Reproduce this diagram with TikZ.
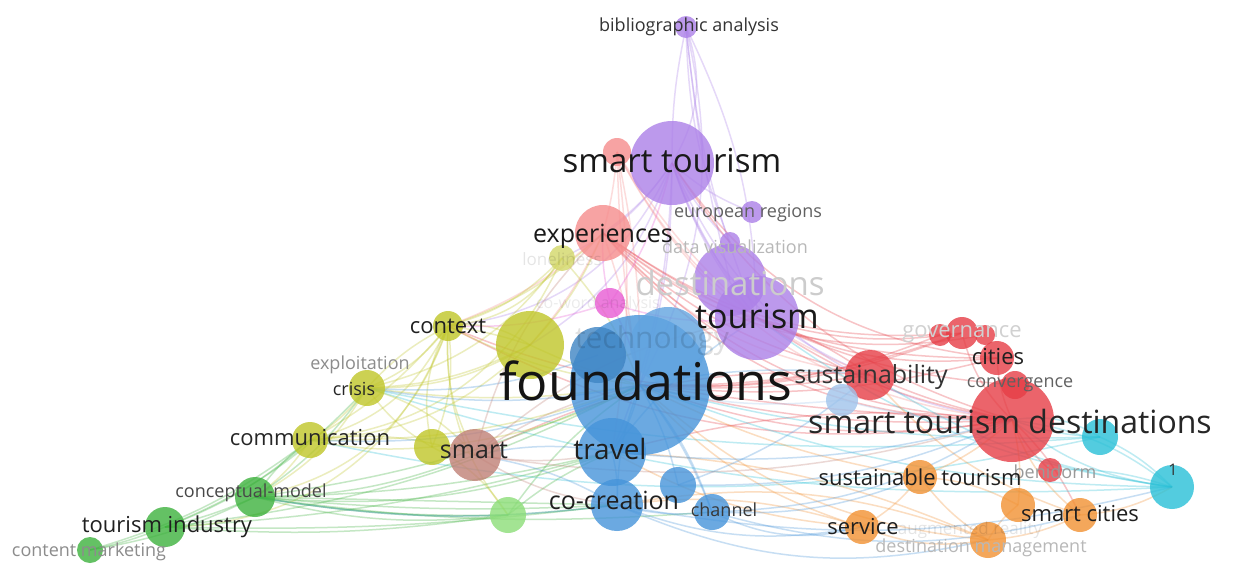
\documentclass[tikz,border=0pt]{standalone}
\usepackage{fontspec}
\setmainfont{Open Sans}
\usetikzlibrary{backgrounds}
\definecolor{cpur}{RGB}{172,128,232}
\definecolor{cred}{RGB}{230,62,70}
\definecolor{cblue}{RGB}{70,148,218}
\definecolor{cyel}{RGB}{192,198,40}
\definecolor{cgrn}{RGB}{62,178,62}
\definecolor{ccy}{RGB}{40,192,215}
\definecolor{corg}{RGB}{242,145,50}
\definecolor{cbrn}{RGB}{192,128,118}
\definecolor{cmag}{RGB}{232,92,212}
\definecolor{csal}{RGB}{246,140,140}
\definecolor{clgr}{RGB}{140,222,120}
\definecolor{clbl}{RGB}{160,196,236}
\newcommand\lfs[1]{\fontsize{#1}{#1}\selectfont}
\pgfdeclarelayer{bg}
\pgfdeclarelayer{edges}
\pgfsetlayers{bg,edges,main}
\tikzset{
  bubble/.style={circle, inner sep=0pt, fill opacity=0.8, draw=none},
  lab/.style={inner sep=0pt, anchor=center},
  edge/.style={line width=1.5pt, draw opacity=0.3},
}
\begin{document}
\begin{tikzpicture}[x=1pt,y=-1pt]
\begin{pgfonlayer}{bg}
\fill[white] (0,0) rectangle (1234,565);
\end{pgfonlayer}
\useasboundingbox (0,0) rectangle (1234,565);
% bubbles
\node[bubble, fill=cpur, minimum size=22] (bib) at (686,27) {};
\node[bubble, fill=csal, minimum size=28] (stp) at (617,152) {};
\node[bubble, fill=cpur, minimum size=84] (st) at (672,163) {};
\node[bubble, fill=cpur, minimum size=22] (eur) at (752,212) {};
\node[bubble, fill=cpur, minimum size=20] (datav) at (730,242) {};
\node[bubble, fill=csal, minimum size=56] (exp) at (603,233) {};
\node[bubble, fill=cyel!70, minimum size=26] (lone) at (562,258) {};
\node[bubble, fill=cpur, minimum size=72] (dest) at (730,280) {};
\node[bubble, fill=cpur, minimum size=84] (tour) at (757,318) {};
\node[bubble, fill=cmag, minimum size=30] (coword) at (610,303) {};
\node[bubble, fill=cyel, minimum size=30] (ctx) at (448,326) {};
\node[bubble, fill=cyel, minimum size=68] (yel) at (530,345) {};
\node[bubble, fill=cblue, minimum size=140] (found) at (640,385) {};
\node[bubble, fill=cblue!85!white, minimum size=76] (tech) at (668,345) {};
\node[bubble, fill=cblue!90!black, minimum size=56] (bl1) at (598,355) {};
\node[bubble, fill=cred, minimum size=22] (gov1) at (940,335) {};
\node[bubble, fill=cred, minimum size=20] (gov2) at (985,335) {};
\node[bubble, fill=cred, minimum size=32] (gov) at (962,333) {};
\node[bubble, fill=cred, minimum size=34] (cit) at (997,358) {};
\node[bubble, fill=cred, minimum size=50] (sus) at (870,375) {};
\node[bubble, fill=clbl, minimum size=32] (lb) at (842,400) {};
\node[bubble, fill=cred, minimum size=28] (conv) at (1015,385) {};
\node[bubble, fill=cred, minimum size=84] (std) at (1012,420) {};
\node[bubble, fill=ccy, minimum size=36] (cy) at (1100,437) {};
\node[bubble, fill=cred, minimum size=24] (ben) at (1050,470) {};
\node[bubble, fill=ccy, minimum size=44] (one) at (1172,487) {};
\node[bubble, fill=corg, minimum size=34] (sustour) at (920,477) {};
\node[bubble, fill=corg, minimum size=34] (sc1) at (1018,505) {};
\node[bubble, fill=corg, minimum size=34] (sc) at (1080,515) {};
\node[bubble, fill=corg, minimum size=34] (serv) at (862,527) {};
\node[bubble, fill=corg, minimum size=36] (aug) at (988,540) {};
\node[bubble, fill=cyel, minimum size=36] (crisis) at (367,388) {};
\node[bubble, fill=cyel, minimum size=36] (comm) at (310,440) {};
\node[bubble, fill=cyel, minimum size=36] (yel2) at (432,447) {};
\node[bubble, fill=cbrn, minimum size=52] (smart) at (475,455) {};
\node[bubble, fill=cblue, minimum size=68] (travel) at (612,452) {};
\node[bubble, fill=cblue, minimum size=36] (bl3) at (678,485) {};
\node[bubble, fill=cblue, minimum size=52] (cocr) at (617,505) {};
\node[bubble, fill=cblue, minimum size=36] (chan) at (712,512) {};
\node[bubble, fill=clgr, minimum size=36] (lg) at (508,515) {};
\node[bubble, fill=cgrn, minimum size=40] (cm) at (255,497) {};
\node[bubble, fill=cgrn, minimum size=40] (ti) at (165,527) {};
\node[bubble, fill=cgrn, minimum size=26] (cmk) at (90,550) {};
% edges
\begin{pgfonlayer}{edges}
\foreach \a/\b/\c/\d in {
 bib/st/cpur/25, bib/tour/cpur/-8, bib/found/cpur/20, bib/dest/cpur/-4, bib/datav/cpur/-10, bib/st/cpur/-6, bib/tour/cpur/12,
 st/found/cpur/8, st/tour/cpur/-10, st/dest/cpur/-6, st/exp/cpur/10, st/sus/cpur/-25, st/std/cpur/-30,
 st/eur/cpur/-10, st/datav/cpur/-8, st/ctx/cpur/30, st/travel/cpur/10, st/yel/cpur/20, st/lone/cpur/15,
 stp/found/csal/6, stp/tour/csal/-8, stp/exp/csal/5, stp/sus/csal/-20, stp/travel/csal/8, stp/std/csal/-28, stp/found/csal/-4,
 exp/found/csal/5, exp/tour/csal/-10, exp/std/cred/-25, exp/ctx/csal/10, exp/yel/csal/8, exp/sus/csal/-20,
 std/found/cred/8, std/tour/cred/12, std/sus/cred/6, std/st/cred/20, sus/found/cred/6, sus/tour/cred/-8,
 gov/tour/cred/12, gov/found/cred/10, cit/found/cred/10, cit/st/cred/25, conv/tour/cred/10, gov/ctx/cred/22,
 std/ctx/cred/18, sus/smart/cred/-15, std/travel/cred/-10, ben/std/cred/10, cit/std/cred/-10, gov/std/cred/-15,
 std/sc/cred/10, gov1/found/cred/12, gov2/exp/cred/25, cit/tour/cred/15, std/exp/cred/22, gov/exp/cred/20, cit/exp/cred/18,
 std/found/cred/14, std/found/cred/3, sus/exp/cred/15,
 one/std/ccy/15, one/cy/ccy/-10, cy/std/ccy/8, one/found/ccy/10, one/sus/ccy/12, one/crisis/ccy/10,
 cy/found/ccy/8, one/ben/ccy/-10, one/tour/ccy/14, cy/comm/ccy/12, one/std/ccy/-15, cy/std/ccy/-20, cy/crisis/ccy/8,
 sustour/found/corg/8, sustour/std/corg/-10, serv/found/corg/15, serv/travel/corg/12, serv/aug/corg/-15, aug/sc/corg/-10,
 aug/sc1/corg/10, sc1/std/corg/-10, sc/std/corg/15, sc/one/corg/-12, aug/found/corg/18, serv/sustour/corg/-10,
 aug/sustour/corg/10, sc/sus/corg/15, serv/cocr/corg/-12, aug/cocr/corg/-15, sc1/sustour/corg/-12, aug/travel/corg/-10,
 ctx/yel/cyel/5, ctx/crisis/cyel/15, ctx/comm/cyel/25, ctx/smart/cyel/-15, ctx/found/cyel/-10, ctx/lone/cyel/-15,
 ctx/exp/cyel/-12, crisis/comm/cyel/10, crisis/yel/cyel/-12, crisis/found/cyel/-8, crisis/smart/cyel/15, comm/yel2/cyel/-8,
 comm/found/cyel/-10, comm/smart/cyel/12, yel2/ctx/cyel/20, yel2/found/cyel/-10, yel/found/cyel/-5, yel/exp/cyel/-10,
 lone/found/cyel/10, comm/cm/cyel/10, crisis/cm/cyel/15, ctx/cm/cyel/30, yel2/crisis/cyel/12, lone/crisis/cyel/20,
 lone/ctx/cyel/25, yel/crisis/cyel/15, yel/comm/cyel/20, lone/comm/cyel/30, yel2/lg/cyel/15, ctx/ti/cyel/35,
 ctx/crisis/cyel/-10, ctx/comm/cyel/10, yel/ctx/cyel/-20, yel2/ctx/cyel/-15, ctx/lg/cyel/-20,
 cm/ti/cgrn/5, ti/cmk/cgrn/5, cm/found/cgrn/-8, cm/travel/cgrn/-6, cm/cocr/cgrn/-4, cm/lg/cgrn/-5,
 ti/found/cgrn/-10, ti/comm/cgrn/-10, cm/comm/cgrn/10, cm/crisis/cgrn/-10, lg/found/cgrn/10, lg/travel/cgrn/8,
 cmk/cm/cgrn/-8, ti/travel/cgrn/-6, cm/smart/cgrn/-10, ti/crisis/cgrn/-12, ti/cocr/cgrn/-4, cmk/comm/cgrn/-10,
 cm/cocr/cgrn/-8, cm/lg/cgrn/-10, cm/chan/cgrn/-6, cm/cocr/cgrn/0, cm/travel/cgrn/-12, ti/lg/cgrn/-6,
 found/travel/cblue/10, found/cocr/cblue/-10, found/chan/cblue/10, found/bl3/cblue/8, travel/cocr/cblue/8, cocr/chan/cblue/-10,
 chan/std/cblue/-15, chan/found/cblue/-8, cocr/smart/cblue/-10, travel/smart/cblue/-10, found/crisis/cblue/10, found/comm/cblue/12,
 travel/std/cblue/-10, chan/sustour/cblue/-12, cocr/serv/cblue/-15, found/sus/cblue/8, lb/found/clbl/10, lb/std/clbl/-8,
 travel/tour/cblue/10, bl3/std/cblue/-12, cocr/cm/cblue/8, chan/sc/cblue/-15, bl1/crisis/cblue/12, cocr/one/cblue/-12,
 chan/serv/cblue/-20, cocr/aug/cblue/-18, bl3/sus/cblue/-10,
 smart/found/cbrn/10, smart/travel/cbrn/-10, smart/tour/cbrn/15, smart/std/cbrn/-12, smart/cocr/cbrn/-12, smart/exp/cbrn/15,
 coword/found/cmag/10, coword/st/cmag/-10, coword/tour/cmag/-12, coword/exp/cmag/8, coword/ctx/cmag/10
}{
 \draw[edge, draw=\c] (\a.center) to[bend left=\d] (\b.center);
}
\end{pgfonlayer}
% labels
\node[lab, font=\lfs{18}, text=black!80] (l-bib) at (689,27) {bibliographic analysis};
\node[lab, font=\lfs{33}, text=black!90] (l-st) at (672,161) {smart tourism};
\node[lab, font=\lfs{18}, text=black!62] (l-eur) at (748,213) {european regions};
\node[lab, font=\lfs{18}, text=black!28] (l-datav) at (735,247) {data visualization};
\node[lab, font=\lfs{25}, text=black!90] (l-exp) at (603,236) {experiences};
\node[lab, font=\lfs{17}, text=black, text opacity=0.1] (l-lone) at (562,259) {loneliness};
\node[lab, font=\lfs{33}, text=black!20] (l-dest) at (730,283) {destinations};
\node[lab, font=\lfs{34}, text=black!90] (l-tour) at (757,316) {tourism};
\node[lab, font=\lfs{16}, text=black, text opacity=0.08] (l-coword) at (598,304) {co-word analysis};
\node[lab, font=\lfs{22}, text=black!88] (l-ctx) at (448,326) {context};
\node[lab, font=\lfs{30}, text=black, text opacity=0.12] (l-tech) at (652,341) {technology};
\node[lab, font=\lfs{52}, text=black!92] (l-found) at (646,381) {foundations};
\node[lab, font=\lfs{22}, text=black!18] (l-gov) at (962,334) {governance};
\node[lab, font=\lfs{22}, text=black!88] (l-cit) at (998,357) {cities};
\node[lab, font=\lfs{25}, text=black!80] (l-sus) at (871,377) {sustainability};
\node[lab, font=\lfs{18}, text=black!62] (l-conv) at (1020,385) {convergence};
\node[lab, font=\lfs{32}, text=black!85] (l-std) at (1010,421) {smart tourism destinations};
\node[lab, font=\lfs{18}, text=black!40] (l-ben) at (1055,472) {benidorm};
\node[lab, font=\lfs{16}, text=black!80] (l-one) at (1173,470) {1};
\node[lab, font=\lfs{22}, text=black!88] (l-sustour) at (920,477) {sustainable tourism};
\node[lab, font=\lfs{22}, text=black!88] (l-sc) at (1080,514) {smart cities};
\node[lab, font=\lfs{22}, text=black!88] (l-serv) at (863,527) {service};
\node[lab, font=\lfs{17}, text=black, text opacity=0.1] (l-aug) at (970,530) {augmented reality};
\node[lab, font=\lfs{18}, text=black!28] (l-dm) at (981,548) {destination management};
\node[lab, font=\lfs{18}, text=black!45] (l-expl) at (360,365) {exploitation};
\node[lab, font=\lfs{18}, text=black!85] (l-crisis) at (354,389) {crisis};
\node[lab, font=\lfs{22}, text=black!85] (l-comm) at (310,438) {communication};
\node[lab, font=\lfs{25}, text=black!85] (l-smart) at (474,450) {smart};
\node[lab, font=\lfs{28}, text=black!88] (l-travel) at (610,449) {travel};
\node[lab, font=\lfs{25}, text=black!88] (l-cocr) at (614,500) {co-creation};
\node[lab, font=\lfs{18}, text=black!78] (l-chan) at (724,510) {channel};
\node[lab, font=\lfs{18}, text=black!72] (l-cm) at (251,493) {conceptual-model};
\node[lab, font=\lfs{22}, text=black!88] (l-ti) at (167,527) {tourism industry};
\node[lab, font=\lfs{18}, text=black!45] (l-cmk) at (89,552) {content marketing};
\end{tikzpicture}
\end{document}
